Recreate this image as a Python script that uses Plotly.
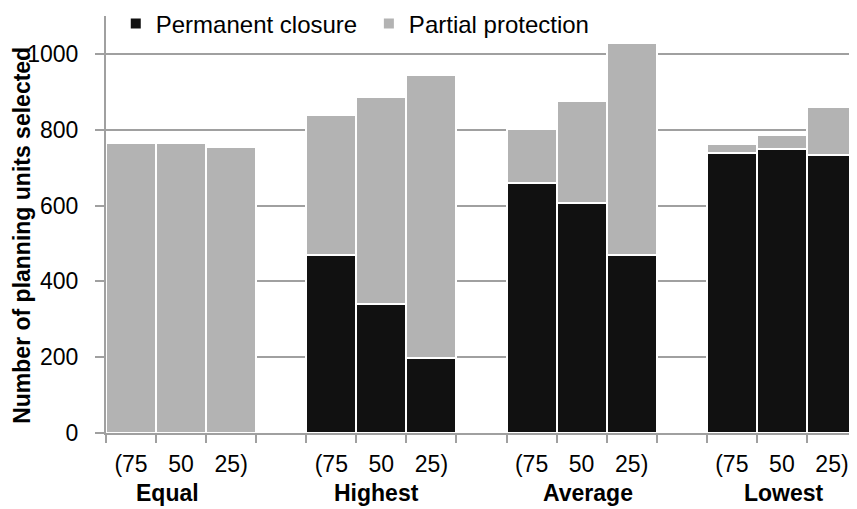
import plotly.graph_objects as go

groups = ["Equal", "Highest", "Average", "Lowest"]
levels = ["(75", "50", "25)"]
permanent = [0, 0, 0, 470, 340, 197, 660, 607, 470, 739, 749, 734]
partial = [765, 765, 755, 369, 547, 748, 142, 269, 559, 24, 36, 125]

# slot positions: 3 bars per group, one empty slot between groups
xpos = []
for g in range(len(groups)):
    for k in range(len(levels)):
        xpos.append(g * 4 + k)
ticktext = levels * len(groups)

fig = go.Figure()
fig.add_bar(x=xpos, y=permanent, name="Permanent closure\u00a0", width=1,
            marker=dict(color="#111111", line=dict(color="white", width=2)))
fig.add_bar(x=xpos, y=partial, name="Partial protection", width=1,
            marker=dict(color="#b3b3b3", line=dict(color="white", width=2)))

group_offsets = [-0.28, -0.1, 0.12, 0.05]
for g, name in enumerate(groups):
    fig.add_annotation(x=g * 4 + 1 + group_offsets[g], y=-0.179, xref="x", yref="paper",
                       text="<b>%s</b>" % name, showarrow=False, yanchor="bottom",
                       font=dict(size=23, color="black"))

# y-axis title as rotated text, centred slightly below the plot middle as in the reference
fig.add_annotation(x=-0.112, y=0.475, xref="paper", yref="paper",
                   text="<b>Number of planning units selected</b>", textangle=-90,
                   showarrow=False, xanchor="center", yanchor="middle",
                   font=dict(size=23, color="black"))

# page body has an 8px margin, so the figure is sized to fit inside the window
fig.update_layout(
    barmode="stack",
    width=849, height=501,
    margin=dict(l=98, r=0, t=8, b=76, autoexpand=False),
    plot_bgcolor="white", paper_bgcolor="white",
    font=dict(family="Liberation Sans, Arial, sans-serif", color="black", size=23),
    showlegend=True,
    legend=dict(orientation="h", x=0.013, xanchor="left", y=0.981, yanchor="middle",
                traceorder="normal",
                bgcolor="rgba(0,0,0,0)", font=dict(size=24), itemwidth=30,
                tracegroupgap=0),
    xaxis=dict(range=[-0.5, 14.5], tickvals=xpos, ticktext=ticktext,
               ticks="", showgrid=False, showline=True, linecolor="#a0a0a0", linewidth=2,
               zeroline=False, tickfont=dict(size=23), ticklabelstandoff=9,
               minor=dict(tick0=-0.5, dtick=1, ticks="outside", ticklen=8,
                          tickcolor="#a0a0a0", tickwidth=2, showgrid=False)),
    yaxis=dict(range=[0, 1100], tickvals=[0, 200, 400, 600, 800, 1000],
               showgrid=True, gridcolor="#a0a0a0", gridwidth=2,
               showline=True, linecolor="#a0a0a0", linewidth=2,
               ticks="outside", ticklen=9, tickcolor="#a0a0a0", tickwidth=2,
               zeroline=False, tickfont=dict(size=23), ticklabelstandoff=12),
)

fig.write_html("out.html")
